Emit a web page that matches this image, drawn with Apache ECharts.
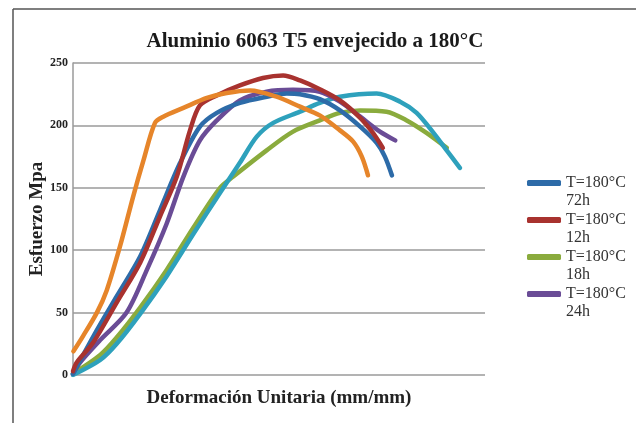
<!DOCTYPE html>
<html>
<head>
<meta charset="utf-8">
<script src="https://cdn.jsdelivr.net/npm/echarts@6/dist/echarts.min.js"></script>
<style>html,body{margin:0;padding:0;background:#fff;}#c{width:636px;height:423px;}</style>
</head>
<body>
<div id="c"></div>
<script>
// Strain values are relative positions along the (unlabelled) x axis, 0-100
const title = 'Aluminio 6063 T5 envejecido a 180°C';
const yTicks = [0, 50, 100, 150, 200, 250];

const x72 = [0, 5.8, 10.6, 16.3, 21.1, 26, 30.8, 34.9, 40.5, 47, 51.9, 55.1, 59.9, 64.8, 69.7, 73.7, 75.7, 77.4];
const y72 = [1, 36, 63, 95, 132, 170, 199, 210, 218, 223, 225.6, 225, 221, 212, 199, 186, 175, 160];

const x12 = [0, 0.9, 4.9, 10.6, 16.3, 21.1, 25.2, 28.4, 30.8, 34.9, 40.5, 46.1, 51, 55.1, 59.9, 64.8, 69.7, 72.8, 75.2];
const y12 = [3, 10, 26, 58, 90, 127, 159, 196, 216, 224, 232, 238, 240, 236, 229, 220, 206, 194, 182];

const x18 = [0, 6.6, 10.6, 16.3, 22.7, 29.2, 35.7, 38.9, 47, 53.4, 59.9, 64.8, 69.7, 76.1, 81, 85.8, 90.7];
const y18 = [1, 16, 30, 54, 84, 118, 150, 159, 180, 195, 204, 210, 212, 211, 204, 194, 182];

const x24 = [0, 1.7, 6.6, 13, 17.9, 22.7, 26.8, 30.8, 34.9, 40.5, 47, 53.4, 59.9, 64.8, 69.7, 74.5, 78.2];
const y24 = [1, 10, 28, 50, 84, 121, 159, 188, 204, 220, 227, 228.5, 227, 219, 207, 195, 188];

const xOrange = [0.1, 2.4, 5.8, 8.2, 11.4, 14.6, 17.1, 19.9, 21.9, 26.8, 32.5, 37.3, 43, 49.4, 55.1, 59.9, 64.8, 68, 70.1, 71.6];
const yOrange = [19, 31, 50, 68, 103, 143, 172, 202, 207, 214, 222, 226, 228, 223, 215, 208, 196, 187, 175, 160];

const xTeal = [0, 6.6, 10.6, 16.3, 22.7, 29.2, 35.7, 40.5, 44.6, 48.6, 55.1, 59.9, 64.8, 73.7, 79.4, 83.4, 87.5, 90.7, 93.9];
const yTeal = [0, 12, 25, 49, 79, 113, 146, 170, 191, 202, 211, 218, 223, 225.6, 219, 210, 194, 180, 166];

const names = ['T=180°C\n72h', 'T=180°C\n12h', 'T=180°C\n18h', 'T=180°C\n24h'];

function pairs(xs, ys) { return xs.map((x, i) => [x, ys[i]]); }
function line(name, xs, ys, color) {
  return {
    name: name, type: 'line', smooth: 0.3, showSymbol: false, symbol: 'none',
    data: pairs(xs, ys),
    lineStyle: { width: 4.5, color: color, cap: 'round', join: 'round' },
    itemStyle: { color: color },
    emphasis: { disabled: true }
  };
}

const serif = '"Liberation Serif", "DejaVu Serif", serif';
const chart = echarts.init(document.getElementById('c'));
chart.setOption({
  animation: false,
  backgroundColor: '#fff',
  title: {
    text: title, left: 310, textAlign: 'center', top: 26,
    textStyle: { fontFamily: serif, fontSize: 21, fontWeight: 'bold', color: '#1a1a1a' }
  },
  grid: { left: 73, right: 151, top: 63, bottom: 48 },
  xAxis: {
    type: 'value', min: 0, max: 100,
    name: 'Deformación Unitaria (mm/mm)', nameLocation: 'middle', nameGap: 14,
    nameTextStyle: { fontFamily: serif, fontSize: 19, fontWeight: 'bold', color: '#222' },
    axisLine: { show: false }, axisTick: { show: false }, axisLabel: { show: false },
    splitLine: { show: false }
  },
  yAxis: {
    type: 'value', min: 0, max: 250, interval: 50,
    name: 'Esfuerzo Mpa', nameLocation: 'middle', nameGap: 26, nameMoveOverlap: false,
    nameTextStyle: { fontFamily: serif, fontSize: 19, fontWeight: 'bold', color: '#222' },
    axisLine: { show: true, lineStyle: { color: '#9a9a9a', width: 1.5 } },
    axisTick: { show: false },
    axisLabel: { fontFamily: serif, fontSize: 12, fontWeight: 'bold', color: '#222', margin: 5,
      formatter: v => yTicks.includes(v) ? String(v) : '' },
    splitLine: { lineStyle: { color: '#9a9a9a', width: 1.5 } }
  },
  legend: {
    data: names, orient: 'vertical', left: 522, top: 151,
    itemWidth: 34, itemHeight: 6, itemGap: -17,
    icon: 'roundRect',
    formatter: n => '\n' + n,
    textStyle: { fontFamily: serif, fontSize: 16, color: '#333', lineHeight: 18 },
    selectedMode: false
  },
  graphic: [
    { type: 'line', shape: { x1: 13, y1: 9, x2: 636, y2: 9 }, style: { stroke: '#555', lineWidth: 1.5 } },
    { type: 'line', shape: { x1: 13, y1: 9, x2: 13, y2: 423 }, style: { stroke: '#555', lineWidth: 1.5 } }
  ],
  series: [
    line(names[2], x18, y18, '#8aab3d'),
    line('', xTeal, yTeal, '#2ea1bc'),
    line(names[3], x24, y24, '#6a4c96'),
    line(names[0], x72, y72, '#2d6ba8'),
    line(names[1], x12, y12, '#a8322f'),
    line(' ', xOrange, yOrange, '#e6852a')
  ]
});
</script>
</body>
</html>
